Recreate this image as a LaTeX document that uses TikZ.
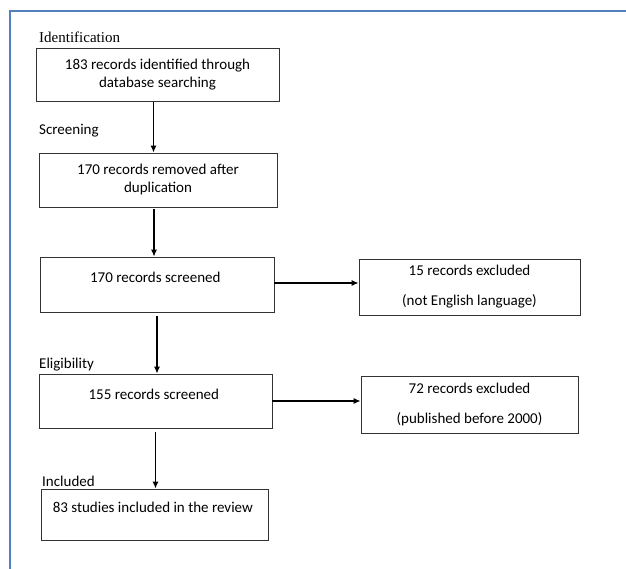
\documentclass[tikz,border=0pt]{standalone}
\usepackage{fontspec}
\setmainfont{Carlito}
\newfontfamily\serifrm{Liberation Serif}
\usetikzlibrary{arrows.meta}
\definecolor{framecol}{RGB}{84,128,192}

\begin{document}
\begin{tikzpicture}[x=1pt,y=-1pt,
    every node/.style={font=\fontsize{15}{18}\selectfont},
    box/.style={draw=black!80, line width=0.9pt, align=center, inner sep=0pt},
    stage/.style={anchor=west, inner sep=0pt},
    arr/.style={line width=1.1pt, -{Latex[length=7pt,width=6pt]}}]
        \useasboundingbox (0,0) rectangle (626,569);
        \draw[framecol, line width=1.2pt] (10,569) -- (10,11) -- (626,11);

        \node[stage] (lid) at (39, 37) { \serifrm Identification };
        \node[stage] (lscr) at (39, 131) { Screening };
        \node[stage] (lelig) at (39, 365) { Eligibility };
        \node[stage] (lincl) at (42, 481) { Included };

        \node[box, minimum width=243pt, minimum height=53pt] (b1) at (157.5, 75) { 183 records identified through\\database searching };
        \node[box, minimum width=238pt, minimum height=54pt] (b2) at (158, 180) { 170 records removed after\\duplication };
        \node[box, minimum width=234pt, minimum height=55pt, text depth=14pt] (b3) at (157, 284.5) { 170 records screened };
        \node[box, minimum width=221pt, minimum height=56pt] (b4) at (469.5, 287) { 15 records excluded\\[12pt](not English language) };
        \node[box, minimum width=233pt, minimum height=54pt, text depth=14pt] (b5) at (155.5, 401) { 155 records screened };
        \node[box, minimum width=217pt, minimum height=57pt] (b6) at (469.5, 404.5) { 72 records excluded\\[12pt](published before 2000) };
        \node[box, minimum width=227pt, minimum height=51pt, text depth=14pt] (b7) at (154.5, 514.5) { 83 studies included in the review };

        \draw[arr] ([xshift=-4pt]b1.south) -- ([xshift=-4pt]b1.south |- b2.north);
        \draw[arr, shorten <=2pt] ([xshift=-4pt]b2.south) -- ([xshift=-4pt]b2.south |- b3.north);
        \draw[arr, shorten <=4pt] (b3.south) -- (b3.south |- b5.north);
        \draw[arr, shorten <=4pt] (b5.south) -- (b5.south |- b7.north);
        \draw[arr] ([yshift=1.5pt]b3.east) -- ([yshift=1.5pt]b3.east -| b4.west);
        \draw[arr] (b5.east) -- (b5.east -| b6.west);

    \end{tikzpicture}
\end{document}
